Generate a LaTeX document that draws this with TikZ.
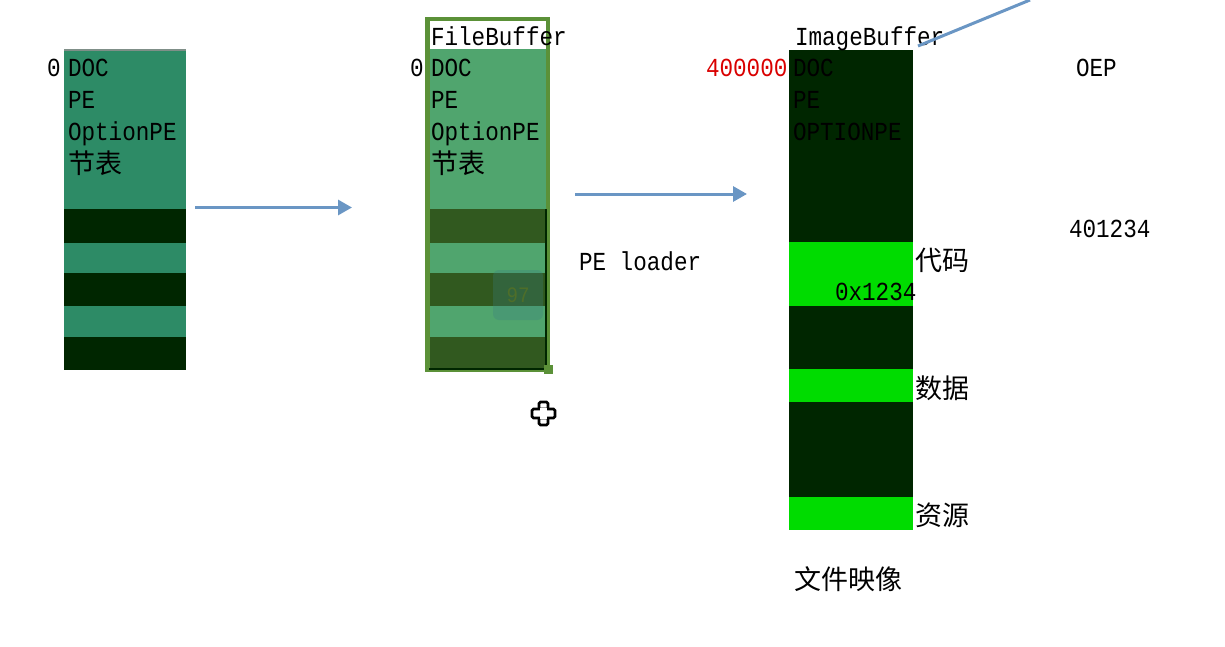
\documentclass[tikz,border=0pt]{standalone}
\usepackage{fontspec}
\setmainfont{Liberation Mono}
\newfontfamily\monofnt[FakeStretch=0.87]{Liberation Mono}
\newfontfamily\cjkfnt{Noto Sans CJK SC}
\usetikzlibrary{arrows.meta}
\definecolor{tealA}{HTML}{2D8B66}
\definecolor{darkA}{HTML}{002600}
\definecolor{tealB}{HTML}{50A56E}
\definecolor{darkB}{HTML}{31591F}
\definecolor{rimB}{HTML}{5B9138}
\definecolor{greenC}{HTML}{00DC00}
\definecolor{arrowC}{HTML}{6A96C4}
\definecolor{topline}{HTML}{7F8F88}
\tikzset{
  x=1pt,y=-1pt,
  band/.style={draw=none,inner sep=0pt,outer sep=0pt,anchor=north west,minimum width=#1},
  lab/.style={inner sep=0pt,outer sep=0pt,anchor=base west,font=\fontsize{26}{26}\monofnt,text=black},
  cjk/.style={inner sep=0pt,outer sep=0pt,anchor=base west,font=\fontsize{27}{27}\cjkfnt,text=black},
  flow/.style={draw=arrowC,line width=3pt,-{Triangle[length=14pt,width=15pt]}},
  curs/.style={draw=black,line width=2.6pt,fill=white,inner sep=0pt,rounded corners=1.5pt},
}
\begin{document}
\begin{tikzpicture}
\useasboundingbox (0,0) rectangle (1225,647);
\clip (0,0) rectangle (1225,647);
% column 1
\node[band=122pt,fill=tealA,minimum height=159pt] (a1) at (64,50) {};
\node[band=122pt,fill=topline,minimum height=1.5pt] (atop) at (64,49.5) {};
\node[band=122pt,fill=darkA,minimum height=34pt] (a2) at (64,209) {};
\node[band=122pt,fill=tealA,minimum height=30pt] (a3) at (64,243) {};
\node[band=122pt,fill=darkA,minimum height=33pt] (a4) at (64,273) {};
\node[band=122pt,fill=tealA,minimum height=31pt] (a5) at (64,306) {};
\node[band=122pt,fill=darkA,minimum height=33pt] (a6) at (64,337) {};
\node[lab] (a0) at (47,77) {0};
\node[lab] (adoc) at (68,77) {DOC};
\node[lab] (ape) at (68,109) {PE};
\node[lab] (aopt) at (68,141) {OptionPE};
\node[cjk] (asec) at (68,174) {节表};
% column 2
\node[band=125pt,fill=rimB,minimum height=355pt] (brim) at (425,17) {};
\node[band=116pt,fill=white,minimum height=28pt] (bw) at (430,21) {};
\node[band=116pt,fill=tealB,minimum height=160pt] (b1) at (430,49) {};
\node[band=116pt,fill=darkB,minimum height=34pt] (b2) at (430,209) {};
\node[band=116pt,fill=tealB,minimum height=30pt] (b3) at (430,243) {};
\node[band=116pt,fill=darkB,minimum height=33pt] (b4) at (430,273) {};
\node[band=116pt,fill=tealB,minimum height=31pt] (b5) at (430,306) {};
\node[band=116pt,fill=darkB,minimum height=31pt] (b6) at (430,337) {};
\node[band=2pt,fill=darkA,minimum height=160pt] (bedge) at (545,209) {};
\node[band=118pt,fill=darkA,minimum height=2pt] (bfoot) at (429,368) {};
\node[band=9pt,fill=rimB,minimum height=9pt] (bgrip) at (544,365) {};
\node[band=50pt,fill=teal!55!gray,fill opacity=.3,rounded corners=6pt,minimum height=50pt] (wm) at (493,270) {};
\node[text=olive,opacity=.3,inner sep=0pt,font=\fontsize{22}{22}\monofnt] (wmt) at (wm.center) {97};
\node[lab] (bfile) at (431,46) {FileBuffer};
\node[lab] (b0) at (410,77) {0};
\node[lab] (bdoc) at (431,77) {DOC};
\node[lab] (bpe) at (431,109) {PE};
\node[lab] (bopt) at (431,141) {OptionPE};
\node[cjk] (bsec) at (431,174) {节表};
% cursor
\node[curs,minimum width=9pt,minimum height=23pt] (cur1) at (543.5,413.5) {};
\node[curs,minimum width=23pt,minimum height=9pt] (cur2) at (543.5,413.5) {};
\node[fill=white,minimum width=6.4pt,minimum height=11.6pt,inner sep=0pt] (cur3) at (543.5,413.5) {};
% column 3
\node[band=124pt,fill=darkA,minimum height=192pt] (c1) at (789,50) {};
\node[band=124pt,fill=greenC,minimum height=64pt] (c2) at (789,242) {};
\node[band=124pt,fill=darkA,minimum height=63pt] (c3) at (789,306) {};
\node[band=124pt,fill=greenC,minimum height=33pt] (c4) at (789,369) {};
\node[band=124pt,fill=darkA,minimum height=95pt] (c5) at (789,402) {};
\node[band=124pt,fill=greenC,minimum height=33pt] (c6) at (789,497) {};
\node[lab] (cimg) at (795,46) {ImageBuffer};
\node[lab,text=red!85!black] (c0) at (706,77) {400000};
\node[lab] (cdoc) at (793,77) {DOC};
\node[lab] (cpe) at (793,109) {PE};
\node[lab] (copt) at (793,141) {OPTIONPE};
\node[lab] (caddr) at (835,300) {0x1234};
\node[cjk] (ccode) at (915,270) {代码};
\node[cjk] (cdata) at (915,398) {数据};
\node[cjk] (cres) at (915,525) {资源};
\node[cjk] (cmap) at (794,589) {文件映像};
% free labels
\node[lab] (oep) at (1076,77) {OEP};
\node[lab] (addr) at (1069,237) {401234};
\node[lab] (loader) at (579,270) {PE loader};
% connectors
\coordinate (s1) at (195,207.5);
\coordinate (t1) at (352,207.5);
\coordinate (s2) at (575,194);
\coordinate (t2) at (747,194);
\coordinate (s3) at (918,46);
\coordinate (t3) at (1030,0);
\draw[flow] (s1) -- (t1);
\draw[flow] (s2) -- (t2);
\draw[draw=arrowC,line width=3pt] (s3) -- (t3);
\end{tikzpicture}
\end{document}
